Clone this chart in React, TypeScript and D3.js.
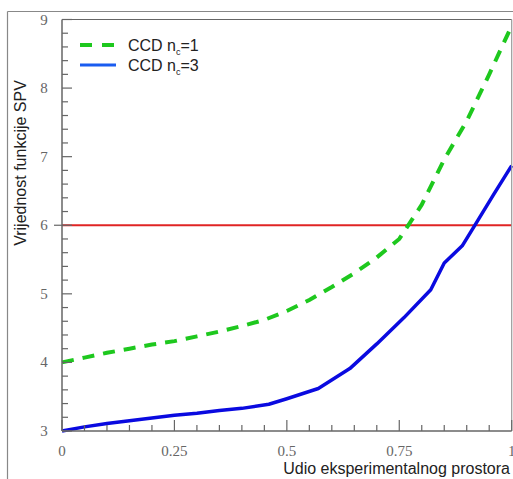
import React from "react";
import * as d3 from "d3";

const xTickLabels = ["0", "0.25", "0.5", "0.75", "1"];
const xTickValues = [0, 0.25, 0.5, 0.75, 1];
const yTickValues = [3, 4, 5, 6, 7, 8, 9];

const ccd1X = [0, 0.05, 0.1, 0.15, 0.2, 0.25, 0.3, 0.35, 0.4, 0.45, 0.5, 0.55, 0.6, 0.65, 0.7, 0.75, 0.8, 0.85, 0.9, 0.95, 1.0];
const ccd1Y = [4.0, 4.07, 4.14, 4.2, 4.26, 4.31, 4.38, 4.45, 4.53, 4.62, 4.75, 4.91, 5.1, 5.3, 5.53, 5.8, 6.3, 6.96, 7.52, 8.2, 8.91];

const ccd3X = [0, 0.05, 0.1, 0.15, 0.2, 0.25, 0.3, 0.35, 0.4, 0.46, 0.5, 0.57, 0.64, 0.7, 0.76, 0.82, 0.85, 0.89, 0.92, 0.96, 1.0];
const ccd3Y = [3.0, 3.06, 3.11, 3.15, 3.19, 3.23, 3.26, 3.3, 3.33, 3.39, 3.47, 3.62, 3.91, 4.27, 4.65, 5.06, 5.45, 5.7, 6.02, 6.45, 6.87];

const thresholdValue = 6;

const W = 513;
const H = 479;
const left = 62;
const right = 511.7;
const top = 19.5;
const bottom = 431;

export default function App() {
  const x = d3.scaleLinear().domain([0, 1]).range([left, right]);
  const y = d3.scaleLinear().domain([3, 9]).range([bottom, top]);
  const line = d3
    .line<[number, number]>()
    .x((d) => x(d[0]))
    .y((d) => y(d[1]));
  const d1 = line(ccd1X.map((v, i) => [v, ccd1Y[i]] as [number, number])) || "";
  const d3p = line(ccd3X.map((v, i) => [v, ccd3Y[i]] as [number, number])) || "";

  const xMinor = d3.range(0, 1.0001, 0.05);
  const yMinor = d3.range(3, 9.0001, 0.2);
  const axisColor = "#666";
  const labelColor = "#666";

  return (
    <svg
      width={W}
      height={H}
      style={{ position: "absolute", left: 0, top: 0, background: "#fff" }}
    >
      <rect x={0} y={0} width={W} height={H} fill="#fff" />
      {/* outer frame */}
      <line x1={7.5} y1={11.5} x2={W + 5} y2={11.5} stroke="#888" strokeWidth={1.2} />
      <line x1={7.5} y1={11.5} x2={7.5} y2={H + 5} stroke="#888" strokeWidth={1.2} />

      {/* threshold */}
      <line x1={x(0)} x2={x(1)} y1={y(thresholdValue)} y2={y(thresholdValue)} stroke="#e02424" strokeWidth={2} />
      <line x1={x(0) - 8} x2={x(0)} y1={y(thresholdValue)} y2={y(thresholdValue)} stroke={axisColor} strokeWidth={1.2} />

      {/* series */}
      <path d={d1} fill="none" stroke="#1ec81e" strokeWidth={4} strokeDasharray="12 9" />
      <path d={d3p} fill="none" stroke="#0a0ae0" strokeWidth={3.5} strokeLinejoin="round" />

      {/* plot frame */}
      <line x1={left} y1={top} x2={right} y2={top} stroke={axisColor} strokeWidth={1.2} />
      <line x1={right} y1={top} x2={right} y2={bottom} stroke="#999" strokeWidth={1.2} />
      <line x1={left} y1={top} x2={left} y2={bottom} stroke={axisColor} strokeWidth={1.5} />
      <line x1={left} y1={bottom} x2={right} y2={bottom} stroke={axisColor} strokeWidth={1.5} />

      {/* x ticks */}
      {xMinor.map((v, i) => {
        const major = i % 5 === 0;
        return (
          <line key={"xt" + i} x1={x(v)} x2={x(v)} y1={bottom} y2={bottom - (major ? 11 : 6)} stroke={axisColor} strokeWidth={1.2} />
        );
      })}
      {/* y ticks */}
      {yMinor.map((v, i) => {
        const major = i % 5 === 0;
        return (
          <line key={"yt" + i} x1={left} x2={left + (major ? 10 : 6)} y1={y(v)} y2={y(v)} stroke={axisColor} strokeWidth={1.2} />
        );
      })}

      {/* tick labels */}
      {xTickValues.map((v, i) => (
        <text key={"xl" + i} x={x(v)} y={456} textAnchor="middle" fontFamily="Liberation Serif, serif" fontSize={15} fill={labelColor}>
          {xTickLabels[i]}
        </text>
      ))}
      {yTickValues.map((v, i) => (
        <text key={"yl" + i} x={44} y={y(v) + 5} textAnchor="middle" fontFamily="Liberation Serif, serif" fontSize={15} fill={labelColor}>
          {v}
        </text>
      ))}

      {/* axis titles */}
      <text x={510} y={474} textAnchor="end" fontFamily="Liberation Sans, Arial, sans-serif" fontSize={16} fill="#222">
        Udio eksperimentalnog prostora
      </text>
      <text
        transform={`translate(26,${163}) rotate(-90)`}
        textAnchor="middle"
        fontFamily="Liberation Sans, Arial, sans-serif"
        fontSize={16}
        fill="#222"
      >
        Vrijednost funkcije SPV
      </text>

      {/* legend */}
      <line x1={80} x2={114} y1={45} y2={45} stroke="#1ec81e" strokeWidth={4} strokeDasharray="12 10" />
      <line x1={80} x2={116} y1={65} y2={65} stroke="#1a5cf0" strokeWidth={3} />
      <text x={128} y={51} fontFamily="Liberation Sans, Arial, sans-serif" fontSize={16} fill="#222">
        CCD n<tspan fontSize={9} dy={4}>c</tspan><tspan dy={-4}>=1</tspan>
      </text>
      <text x={128} y={71} fontFamily="Liberation Sans, Arial, sans-serif" fontSize={16} fill="#222">
        CCD n<tspan fontSize={9} dy={4}>c</tspan><tspan dy={-4}>=3</tspan>
      </text>
    </svg>
  );
}
